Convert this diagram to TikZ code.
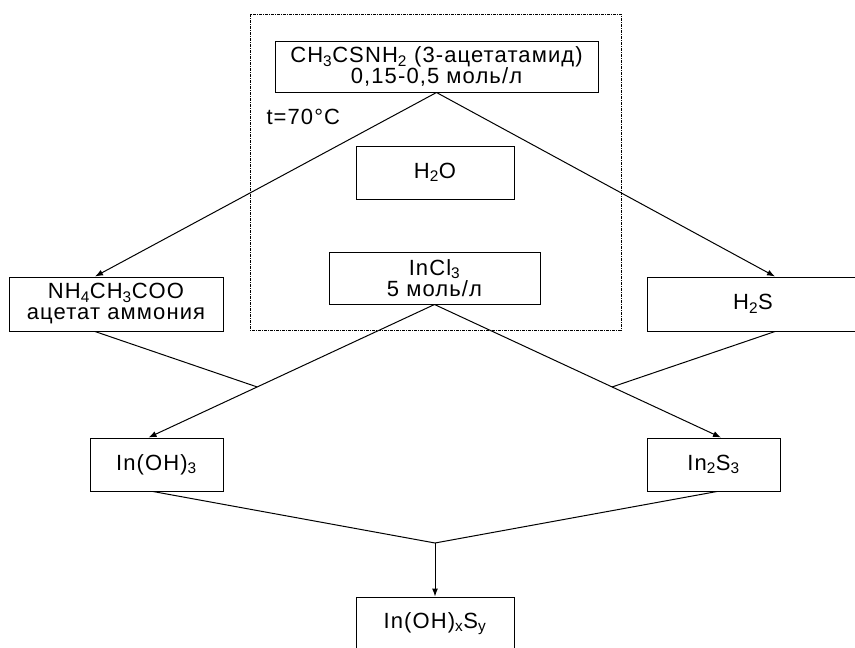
\documentclass[tikz,border=0pt]{standalone}
\usepackage{fontspec}
\setmainfont{Liberation Sans}[LetterSpace=5]
\usetikzlibrary{calc, arrows.meta}

\begin{document}
\begin{tikzpicture}[x=1pt,y=-1pt,line width=1pt,>={Latex[length=8pt,width=6pt]},
    box/.style={draw,rectangle,inner sep=0pt,align=center,
      font=\fontsize{22}{21}\selectfont},
    zone/.style={draw,line width=0.8pt,dash pattern=on 3pt off 1pt on 1pt off 1pt} ]
    \useasboundingbox (0,0) rectangle (855,648);
    \draw [zone] (250,14) rectangle (621,330);
    \node at (436.5,66.5) [box,minimum width=323pt,minimum height=51pt] (amid)
      {CH\textsubscript{3}CSNH\textsubscript{2} (3-ацетатамид)\\0,15-0,5 моль/л};
    \node at (266,117) [anchor=west,inner sep=0pt,font=\fontsize{22}{21}\selectfont] (temp) {t=70°C};
    \node at (435,172.5) [box,minimum width=158pt,minimum height=53pt] (water) {H\textsubscript{2}O};
    \node at (434.5,278) [box,minimum width=211pt,minimum height=52pt] (incl) {InCl\textsubscript{3}\\5 моль/л};
    \node at (116,304) [box,minimum width=214pt,minimum height=54pt] (acet)
      {NH\textsubscript{4}CH\textsubscript{3}COO\\ацетат аммония};
    \node at (753,304) [box,minimum width=212pt,minimum height=54pt] (hs) {H\textsubscript{2}S};
    \node at (156.5,464.5) [box,minimum width=133pt,minimum height=53pt] (inoh) {In(OH)\textsubscript{3}};
    \node at (713.5,464.5) [box,minimum width=133pt,minimum height=53pt] (ins) {In\textsubscript{2}S\textsubscript{3}};
    \node at (435,624) [box,minimum width=158pt,minimum height=54pt] (mix)
      {In(OH)\textsubscript{x}S\textsubscript{y}};
    \draw [->] (amid.south) to ([xshift=-21pt]acet.north);
    \draw [->] (amid.south) to ([xshift=22pt]hs.north);
    \draw [->] (incl.south) to ([xshift=-8pt]inoh.north);
    \draw [->] (incl.south) to ([xshift=7.5pt]ins.north);
    \coordinate (jl) at ($(incl.south)!0.62!([xshift=-8pt]inoh.north)$);
    \coordinate (jr) at ($(incl.south)!0.62!([xshift=7.5pt]ins.north)$);
    \draw [-] ([xshift=-21pt]acet.south) to (jl);
    \draw [-] ([xshift=22pt]hs.south) to (jr);
    \coordinate (merge) at (435,543);
    \draw [-] ([xshift=-3.5pt]inoh.south) to (merge) to ([xshift=3.5pt]ins.south);
    \draw [->] (merge) to (mix.north);
\end{tikzpicture}
\end{document}
